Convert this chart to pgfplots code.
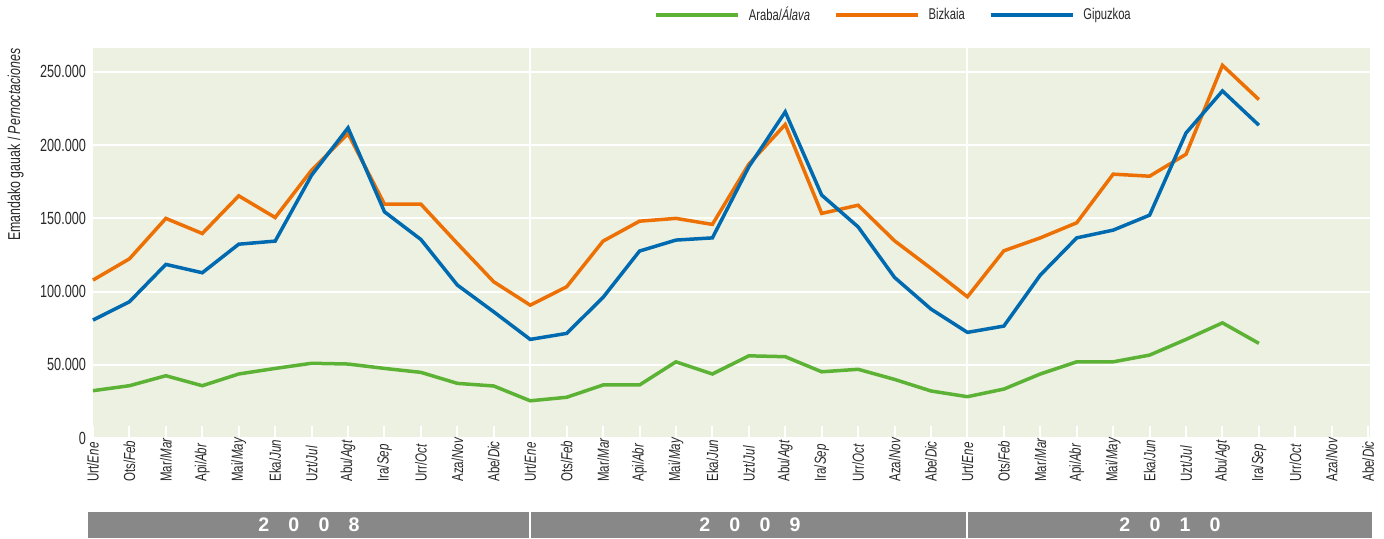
\documentclass[border=0pt]{standalone}
\usepackage{fontspec}
\setmainfont{Liberation Sans}[FakeStretch=0.72]
\newfontfamily\yearfont{Liberation Sans}
\usepackage{pgfplots}
\pgfplotsset{compat=1.18}

\definecolor{cgreen}{RGB}{92,178,52}
\definecolor{corange}{RGB}{236,112,4}
\definecolor{cblue}{RGB}{0,106,176}
\definecolor{plotbg}{RGB}{237,241,225}
\definecolor{yearbar}{RGB}{136,136,136}
\definecolor{txt}{RGB}{40,40,40}

\begin{document}
\begin{tikzpicture}
\useasboundingbox (0,0) rectangle (692pt,269pt);
\begin{axis}[
  at={(46.5pt,50pt)}, anchor=south west,
  scale only axis, width=638.5pt, height=194.85pt,
  xmin=0, xmax=35.05, ymin=0, ymax=266000,
  axis background/.style={fill=plotbg},
  axis line style={draw=none},
  xtick={0,...,35},
  xticklabels={Urt/\textit{Ene},Ots/\textit{Feb},Mar/\textit{Mar},Api/\textit{Abr},Mai/\textit{May},Eka/\textit{Jun},Uzt/\textit{Jul},Abu/\textit{Agt},Ira/\textit{Sep},Urr/\textit{Oct},Aza/\textit{Nov},Abe/\textit{Dic},
               Urt/\textit{Ene},Ots/\textit{Feb},Mar/\textit{Mar},Api/\textit{Abr},Mai/\textit{May},Eka/\textit{Jun},Uzt/\textit{Jul},Abu/\textit{Agt},Ira/\textit{Sep},Urr/\textit{Oct},Aza/\textit{Nov},Abe/\textit{Dic},
               Urt/\textit{Ene},Ots/\textit{Feb},Mar/\textit{Mar},Api/\textit{Abr},Mai/\textit{May},Eka/\textit{Jun},Uzt/\textit{Jul},Abu/\textit{Agt},Ira/\textit{Sep},Urr/\textit{Oct},Aza/\textit{Nov},Abe/\textit{Dic}},
  xticklabel style={rotate=90, anchor=west, font=\fontsize{8}{9}\selectfont, text=txt, inner sep=0pt},
  xticklabel shift=22pt,
  x tick style={white, line width=1pt},
  major tick length=6pt,
  tick align=inside,
  xtick pos=bottom,
  extra x ticks={12,24},
  extra x tick style={grid=major, major grid style={white, line width=1pt}, major tick length=0pt,
    xticklabel=\empty},
  ytick={0,50000,100000,150000,200000,250000},
  yticklabels={0,50.000,100.000,150.000,200.000,250.000},
  scaled y ticks=false,
  ytick style={draw=none},
  ymajorgrids,
  y grid style={white, line width=1pt},
  yticklabel style={font=\fontsize{8.8}{10}\selectfont, text=txt},
  ylabel={Emandako gauak / \textit{Pernoctaciones}},
  ylabel style={at={(rel axis cs:-0.054,1)}, anchor=south east,
    font=\fontsize{8.6}{10}\selectfont, text=txt, inner sep=0pt},
  legend columns=3,
  legend style={at={(0.4393,1.0855)}, anchor=west, draw=none, fill=none,
    inner sep=0pt, font=\fontsize{7.8}{9}\selectfont, text=txt,
    nodes={inner sep=0pt},
    /tikz/every odd column/.append style={column sep=4.5pt},
    /tikz/every even column/.append style={column sep=12pt}},
  legend image code/.code={\draw[#1] (0pt,0pt) -- (41pt,0pt);},
  every axis plot/.append style={line width=1.75pt},
  clip=false,
]
\addplot[cgreen] coordinates {
 (0,32300)(1,35700)(2,42500)(3,35700)(4,43700)(5,47500)(6,51000)(7,50500)(8,47500)(9,44800)(10,37300)(11,35500)
 (12,25400)(13,27800)(14,36200)(15,36200)(16,52000)(17,43700)(18,56100)(19,55500)(20,45200)(21,46900)(22,40000)(23,32100)
 (24,28200)(25,33400)(26,43700)(27,52000)(28,52000)(29,56600)(30,67300)(31,78600)(32,64600)};
\addlegendentry{Araba/\textit{Álava}}
\addplot[corange] coordinates {
 (0,107800)(1,122300)(2,149900)(3,139600)(4,165300)(5,150500)(6,182800)(7,207800)(8,159600)(9,159600)(10,132800)(11,106600)
 (12,90700)(13,103200)(14,134400)(15,148000)(16,149900)(17,145800)(18,186900)(19,214000)(20,153300)(21,158900)(22,134600)(23,115800)
 (24,96400)(25,127800)(26,136600)(27,146900)(28,180100)(29,178700)(30,193700)(31,254400)(32,231000)};
\addlegendentry{Bizkaia}
\addplot[cblue] coordinates {
 (0,80500)(1,93000)(2,118500)(3,112800)(4,132300)(5,134400)(6,179400)(7,211700)(8,154400)(9,135500)(10,104400)(11,86100)
 (12,67300)(13,71400)(14,96000)(15,127600)(16,135100)(17,136600)(18,185100)(19,222600)(20,165800)(21,144100)(22,109600)(23,88000)
 (24,72100)(25,76400)(26,111200)(27,136600)(28,141900)(29,152100)(30,208200)(31,236900)(32,213500)};
\addlegendentry{Gipuzkoa}
\end{axis}
% year bar
\fill[yearbar] (44pt,0pt) rectangle (686pt,13pt);
\draw[white, line width=1pt] (265pt,0pt) -- (265pt,13pt);
\draw[white, line width=1pt] (483.5pt,0pt) -- (483.5pt,13pt);
\begin{scope}[every node/.style={text=white, font=\yearfont\bfseries\fontsize{9.8}{10}\selectfont, inner sep=0pt}]
\node at (154.5pt,6.5pt) {2\hspace{9.6pt}0\hspace{9.6pt}0\hspace{9.6pt}8};
\node at (375pt,6.5pt) {2\hspace{9.6pt}0\hspace{9.6pt}0\hspace{9.6pt}9};
\node at (585pt,6.5pt) {2\hspace{9.6pt}0\hspace{9.6pt}1\hspace{9.6pt}0};
\end{scope}
\end{tikzpicture}
\end{document}
